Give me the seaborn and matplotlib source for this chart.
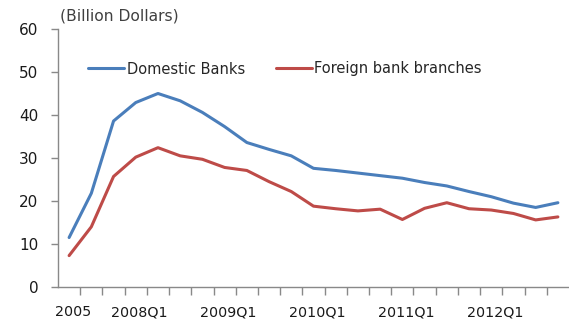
import matplotlib
matplotlib.use("Agg")
import matplotlib.pyplot as plt
from matplotlib.ticker import FixedLocator, NullFormatter
from matplotlib.transforms import ScaledTranslation
import pandas as pd
import seaborn as sns

# Reporting periods: three annual points, then quarterly from 2008Q1
periods = ["2005", "2006", "2007"] + [f"{y}Q{q}" for y in range(2008, 2013) for q in range(1, 5)]
shown_labels = ["2005", "2008Q1", "2009Q1", "2010Q1", "2011Q1", "2012Q1"]

domestic_banks = [11.5, 21.8, 38.6, 42.9, 45.0, 43.3, 40.6, 37.3, 33.6, 32.0, 30.5,
                  27.6, 27.1, 26.5, 25.9, 25.3, 24.3, 23.5, 22.2, 21.0, 19.5, 18.5, 19.6]
foreign_branches = [7.3, 14.0, 25.7, 30.2, 32.4, 30.5, 29.7, 27.8, 27.1, 24.5, 22.2,
                    18.8, 18.2, 17.7, 18.1, 15.7, 18.3, 19.6, 18.2, 17.9, 17.1, 15.6, 16.3]

series_names = ["Domestic Banks", "Foreign bank branches"]
colors = ["#4A7EBB", "#BE4B48"]

df = pd.DataFrame({
    "idx": list(range(len(periods))) * 2,
    "value": domestic_banks + foreign_branches,
    "series": [series_names[0]] * len(periods) + [series_names[1]] * len(periods),
})

sns.set_style("white")
plt.rcParams["font.family"] = ["DejaVu Sans"]

fig = plt.figure(figsize=(5.69, 3.23), dpi=100)
ax = fig.add_axes([58 / 569, 1 - 287 / 323, 511 / 569, 258 / 323])

sns.lineplot(data=df, x="idx", y="value", hue="series", palette=colors,
             linewidth=2.2, ax=ax, legend=False)

ax.set_xlim(-0.5, len(periods) - 0.5)
ax.set_ylim(0, 60)
ax.set_yticks(range(0, 61, 10))
ax.set_xlabel("")
ax.set_ylabel("")

# Category labels at selected periods, tick marks between categories
label_pos = [periods.index(p) for p in shown_labels]
ax.set_xticks(label_pos)
ax.set_xticklabels(shown_labels)
ax.xaxis.set_minor_locator(FixedLocator([i + 0.5 for i in range(len(periods) - 1)]))
ax.xaxis.set_minor_formatter(NullFormatter())

axis_gray = "#898989"
for side in ["top", "right"]:
    ax.spines[side].set_visible(False)
for side in ["left", "bottom"]:
    ax.spines[side].set_color(axis_gray)
    ax.spines[side].set_linewidth(1.0)

ax.tick_params(axis="y", which="major", direction="out", length=5, width=1,
               color=axis_gray, labelsize=11, labelcolor="#1a1a1a", pad=9, left=True)
ax.tick_params(axis="x", which="major", length=0, labelsize=10.3,
               labelcolor="#1a1a1a", pad=13, bottom=True)
ax.tick_params(axis="x", which="minor", direction="out", length=6, width=1,
               color=axis_gray, bottom=True)

# nudge category labels slightly to the right
shift = ScaledTranslation(4 / 100, 0, fig.dpi_scale_trans)
for lbl in ax.get_xticklabels():
    lbl.set_transform(lbl.get_transform() + shift)

fig.text(60 / 569, 1 - 16 / 323, "(Billion Dollars)", fontsize=11.2,
         color="#404040", va="center", ha="left")

handles = [plt.Line2D([], [], color=c, linewidth=2.2) for c in colors]
ax.legend(handles, series_names, loc="center left", bbox_to_anchor=(30 / 511, (287 - 69) / 258),
          ncol=2, frameon=False, fontsize=10.5, handlelength=2.5, handletextpad=0.15,
          columnspacing=2.1, borderaxespad=0, borderpad=0, labelcolor="#262626")

fig.savefig("out.png", dpi=100)
